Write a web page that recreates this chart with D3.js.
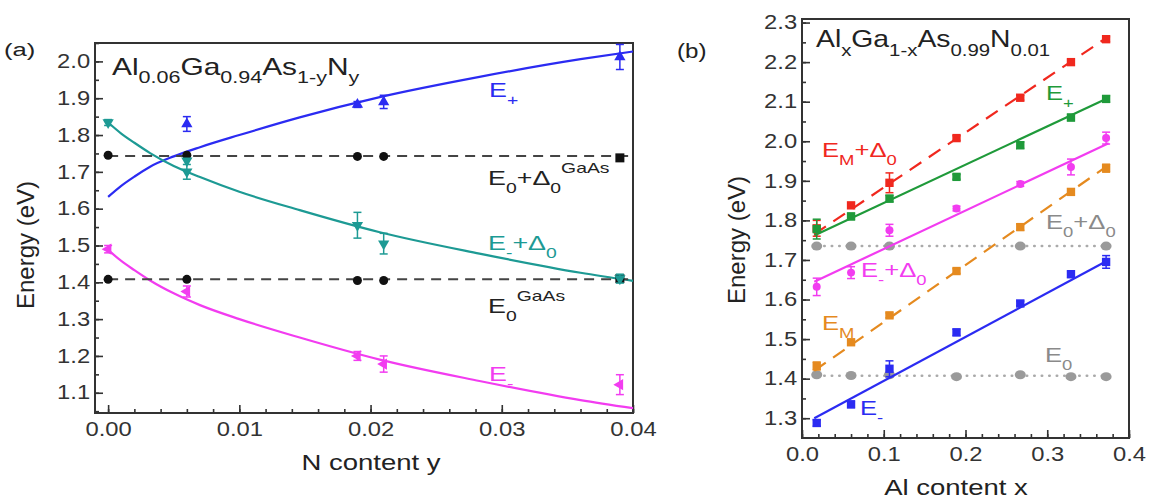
<!DOCTYPE html>
<html>
<head>
<meta charset="utf-8">
<script src="https://cdn.jsdelivr.net/npm/d3@7"></script>
<style>
body{margin:0;background:#fff}
text{font-family:"Liberation Sans",Arial,sans-serif}
</style>
</head>
<body>
<svg width="1149" height="502"></svg>
<script>
// ---------- panel (a) data : N content y ----------
const ePlusPts   = [[0.006,1.83,0.02],[0.019,1.883,0.008],[0.021,1.89,0.018],[0.039,2.012,0.034]];
const eMinD0Pts  = [[0,1.834,0.008],[0.006,1.73,0],[0.006,1.70,0.02],[0.019,1.555,0.035],[0.021,1.505,0.028],[0.039,1.41,0.012]];
const eMinPts    = [[0,1.49,0.01],[0.006,1.375,0.015],[0.019,1.20,0.012],[0.021,1.178,0.022],[0.039,1.122,0.027]];
const e0d0GaAs   = [[0,1.745],[0.006,1.745],[0.019,1.742],[0.021,1.742],[0.039,1.738]];
const e0GaAs     = [[0,1.408],[0.006,1.408],[0.019,1.405],[0.021,1.405],[0.039,1.41]];
// BAC fit curves
const yGrid      = [0,0.001,0.002,0.0032,0.005,0.007,0.010,0.0146,0.0207,0.0283,0.036,0.040];
const ePlusFit   = [1.632,1.662,1.687,1.714,1.742,1.767,1.80,1.848,1.903,1.958,2.006,2.027];
const eMinD0Fit  = [1.834,1.804,1.779,1.751,1.716,1.686,1.646,1.596,1.536,1.478,1.426,1.404];
const eMinFit    = [1.488,1.458,1.433,1.405,1.37,1.338,1.30,1.25,1.19,1.132,1.08,1.058];

// ---------- panel (b) data : Al content x ----------
const alX        = [0.018,0.06,0.107,0.189,0.267,0.329,0.372];
const emD0B      = [1.78,1.838,1.895,2.008,2.11,2.2,2.258];
const emD0Err    = [0.02,0.006,0.025,0.006,0.006,0.006,0.006];
const ePlusB     = [1.778,1.81,1.855,1.91,1.99,2.06,2.107];
const ePlusErr   = [0.025,0.008,0.008,0.006,0.008,0.008,0.008];
const eMinD0B    = [1.632,1.668,1.775,1.83,1.892,1.935,2.008];
const eMinD0Err  = [0.022,0.015,0.015,0.006,0.006,0.02,0.015];
const emB        = [1.432,1.492,1.56,1.672,1.783,1.872,1.932];
const emErr      = [0.01,0.006,0.006,0.006,0.008,0.008,0.01];
const eMinB      = [1.288,1.335,1.425,1.517,1.59,1.664,1.695];
const eMinErr    = [0.008,0.008,0.02,0.008,0.006,0.008,0.016];
const e0d0X      = [0.018,0.06,0.107,0.267,0.372];
const e0d0B      = [1.735,1.735,1.735,1.735,1.735];
const e0B        = [1.41,1.408,1.41,1.405,1.41,1.405,1.405];
const fitX       = [0.015,0.375];
const emD0Line   = [1.765,2.265];
const ePlusLine  = [1.762,2.11];
const eMinD0Line = [1.645,1.995];
const emLine     = [1.42,1.94];
const eMinLine   = [1.30,1.70];

const C = {blue:'#2b2bf2', teal:'#1d9a94', pink:'#f23cf0', black:'#111', red:'#f0281e',
           green:'#1f9a3a', orange:'#e58a1f', gray:'#9a9a9a', axis:'#333'};

const svg = d3.select('svg');

// text in the source is a little wider than the font, hence the x stretch
function richText(g, x, y, parts, size, color, sx) {
  const t = g.append('text').attr('transform', `translate(${x},${y}) scale(${sx || 1.27},1)`)
    .attr('fill', color).attr('font-size', size);
  let shift = 0;
  parts.forEach(([s, kind]) => {
    let target = kind === 'sub' ? 0.36*size : kind === 'sup' ? -0.55*size : 0;
    t.append('tspan').text(s).attr('dy', target - shift)
      .attr('font-size', kind ? size*0.72 : size);
    shift = target;
  });
  return t;
}

function frame(g, x, y, xTicks, xMinor, yTicks, yMinor, xFmt, yFmt) {
  const [x0, x1] = x.range(), [y1, y0] = y.range();
  g.append('g').attr('transform', `translate(0,${y1})`)
    .call(d3.axisBottom(x).tickValues(xMinor).tickSize(-4).tickFormat(''))
    .call(a => a.select('.domain').remove());
  g.append('g').attr('transform', `translate(0,${y1})`)
    .call(d3.axisBottom(x).tickValues(xTicks).tickSize(-8).tickPadding(9).tickFormat(xFmt))
    .call(a => a.select('.domain').remove());
  g.append('g').attr('transform', `translate(${x0},0)`)
    .call(d3.axisLeft(y).tickValues(yMinor).tickSize(-4).tickFormat(''))
    .call(a => a.select('.domain').remove());
  g.append('g').attr('transform', `translate(${x0},0)`)
    .call(d3.axisLeft(y).tickValues(yTicks).tickSize(-8).tickPadding(4).tickFormat(yFmt))
    .call(a => a.select('.domain').remove());
  g.selectAll('.tick line').attr('stroke', C.axis).attr('stroke-width', 1.6);
  g.selectAll('.tick text').attr('fill', '#333').attr('font-size', 19.5)
    .attr('font-family', '"Liberation Sans",Arial,sans-serif').attr('transform', 'scale(1.22,1)');
  g.append('rect').attr('x', x0).attr('y', y0).attr('width', x1 - x0).attr('height', y1 - y0)
    .attr('fill', 'none').attr('stroke', C.axis).attr('stroke-width', 2);
}

function errPts(g, x, y, pts, color, sym, rot, size) {
  const sel = g.append('g');
  pts.forEach(([px, py, e]) => {
    const cx = x(px);
    if (e > 0) {
      sel.append('line').attr('x1', cx).attr('x2', cx).attr('y1', y(py - e)).attr('y2', y(py + e))
        .attr('stroke', color).attr('stroke-width', 1.5);
      [py - e, py + e].forEach(v => sel.append('line').attr('x1', cx - 4).attr('x2', cx + 4)
        .attr('y1', y(v)).attr('y2', y(v)).attr('stroke', color).attr('stroke-width', 1.5));
    }
    sel.append('path').attr('d', d3.symbol().type(sym).size(size || 55)())
      .attr('transform', `translate(${cx},${y(py)}) rotate(${rot || 0})`).attr('fill', color);
  });
}

// ================= panel (a) =================
const ga = svg.append('g');
const xa = d3.scaleLinear().domain([-0.001, 0.04]).range([95, 633]);
const ya = d3.scaleLinear().domain([1.045, 2.05]).range([413, 43]);
frame(ga, xa, ya, d3.range(0, 0.0401, 0.01), d3.range(0, 0.0401, 0.002),
      d3.range(1.1, 2.01, 0.1), d3.range(1.05, 2.051, 0.05), d3.format('.2f'), d3.format('.1f'));

const lineA = d3.line().curve(d3.curveMonotoneX);
[[ePlusFit, C.blue], [eMinD0Fit, C.teal], [eMinFit, C.pink]].forEach(([vals, col]) => {
  ga.append('path').attr('d', lineA(yGrid.map((v, i) => [xa(v), ya(vals[i])])))
    .attr('fill', 'none').attr('stroke', col).attr('stroke-width', 2.2);
});
[1.743, 1.408].forEach(v => {
  ga.append('line').attr('x1', xa(0)).attr('x2', xa(0.04)).attr('y1', ya(v)).attr('y2', ya(v))
    .attr('stroke', '#444').attr('stroke-width', 2).attr('stroke-dasharray', '10,7');
});
e0d0GaAs.concat(e0GaAs).forEach(([px, py]) => {
  if (px > 0.03) ga.append('rect').attr('x', xa(px) - 4.5).attr('y', ya(py) - 4.5).attr('width', 9).attr('height', 9).attr('fill', C.black);
  else ga.append('circle').attr('cx', xa(px)).attr('cy', ya(py)).attr('r', 4.5).attr('fill', C.black);
});
errPts(ga, xa, ya, ePlusPts, C.blue, d3.symbolTriangle, 0);
errPts(ga, xa, ya, eMinD0Pts, C.teal, d3.symbolTriangle, 180);
errPts(ga, xa, ya, eMinPts, C.pink, d3.symbolTriangle, -90);

richText(ga, 4, 56, [['(a)']], 19, '#222', 1.35);
richText(ga, 112, 75, [['Al'], ['0.06', 'sub'], ['Ga'], ['0.94', 'sub'], ['As'], ['1-y', 'sub'], ['N'], ['y', 'sub']], 23, '#222', 1.3);
richText(ga, 489, 97, [['E'], ['+', 'sub']], 21, C.blue, 1.28);
richText(ga, 488, 185, [['E'], ['0', 'sub'], ['+Δ'], ['0', 'sub'], ['GaAs', 'sup']], 21, '#222', 1.28);
richText(ga, 488, 250, [['E'], ['-', 'sub'], ['+Δ'], ['0', 'sub']], 21, C.teal, 1.28);
richText(ga, 488, 313, [['E'], ['0', 'sub'], ['GaAs', 'sup']], 21, '#222', 1.28);
richText(ga, 489, 381, [['E'], ['-', 'sub']], 21, C.pink, 1.28);
ga.append('text').attr('transform', 'translate(34,245) rotate(-90)').attr('text-anchor', 'middle')
  .attr('font-size', 24).attr('fill', '#222').text('Energy (eV)');
richText(ga, 371, 470, [['N content y']], 22, '#222', 1.25).attr('text-anchor', 'middle');

// ================= panel (b) =================
const gb = svg.append('g');
const xb = d3.scaleLinear().domain([0, 0.4]).range([802, 1129]);
const yb = d3.scaleLinear().domain([1.25, 2.309]).range([438, 19]);
frame(gb, xb, yb, d3.range(0, 0.401, 0.1), d3.range(0, 0.401, 0.02),
      d3.range(1.3, 2.301, 0.1), d3.range(1.3, 2.301, 0.05), d3.format('.1f'), d3.format('.1f'));

// dotted reference levels
[[e0d0X, e0d0B], [alX, e0B]].forEach(([xs, vs]) => {
  gb.append('line').attr('x1', xb(xs[0])).attr('x2', xb(xs[xs.length - 1]))
    .attr('y1', yb(d3.mean(vs))).attr('y2', yb(d3.mean(vs)))
    .attr('stroke', '#aaa').attr('stroke-width', 2.5).attr('stroke-linecap', 'round').attr('stroke-dasharray', '0.5,7');
  xs.forEach((v, i) => gb.append('ellipse').attr('cx', xb(v)).attr('cy', yb(vs[i])).attr('rx', 5.5).attr('ry', 4.5).attr('fill', C.gray));
});

const fits = [[emD0Line, C.red, true], [ePlusLine, C.green, false], [eMinD0Line, C.pink, false],
              [emLine, C.orange, true], [eMinLine, C.blue, false]];
fits.forEach(([vals, col, dashed]) => {
  gb.append('line').attr('x1', xb(fitX[0])).attr('x2', xb(fitX[1])).attr('y1', yb(vals[0])).attr('y2', yb(vals[1]))
    .attr('stroke', col).attr('stroke-width', 2.2).attr('stroke-dasharray', dashed ? '14,9' : null);
});

const zip = (vals, errs) => alX.map((v, i) => [v, vals[i], errs[i]]);
errPts(gb, xb, yb, zip(emD0B, emD0Err), C.red, d3.symbolSquare, 0, 70);
errPts(gb, xb, yb, zip(ePlusB, ePlusErr), C.green, d3.symbolSquare, 0, 70);
errPts(gb, xb, yb, zip(eMinD0B, eMinD0Err), C.pink, d3.symbolCircle, 0, 50);
errPts(gb, xb, yb, zip(emB, emErr), C.orange, d3.symbolSquare, 0, 70);
errPts(gb, xb, yb, zip(eMinB, eMinErr), C.blue, d3.symbolSquare, 0, 70);

richText(gb, 677, 58, [['(b)']], 21, '#222', 1.15);
richText(gb, 816, 47, [['Al'], ['x', 'sub'], ['Ga'], ['1-x', 'sub'], ['As'], ['0.99', 'sub'], ['N'], ['0.01', 'sub']], 24, '#222', 1.18);
richText(gb, 1046, 100, [['E'], ['+', 'sub']], 21, C.green, 1.22);
richText(gb, 822, 157, [['E'], ['M', 'sub'], ['+Δ'], ['0', 'sub']], 21, C.red, 1.22);
richText(gb, 1046, 229, [['E'], ['0', 'sub'], ['+Δ'], ['0', 'sub']], 21, '#8a8a8a', 1.22);
richText(gb, 861, 277, [['E'], ['-', 'sub'], ['+Δ'], ['0', 'sub']], 21, C.pink, 1.22);
richText(gb, 822, 330, [['E'], ['M', 'sub']], 21, C.orange, 1.22);
richText(gb, 1045, 362, [['E'], ['0', 'sub']], 21, '#8a8a8a', 1.22);
richText(gb, 860, 415, [['E'], ['-', 'sub']], 21, C.blue, 1.22);
gb.append('text').attr('transform', 'translate(745,240) rotate(-90)').attr('text-anchor', 'middle')
  .attr('font-size', 24).attr('fill', '#222').text('Energy (eV)');
richText(gb, 956, 495, [['Al content x']], 22, '#222', 1.25).attr('text-anchor', 'middle');
</script>
</body>
</html>
